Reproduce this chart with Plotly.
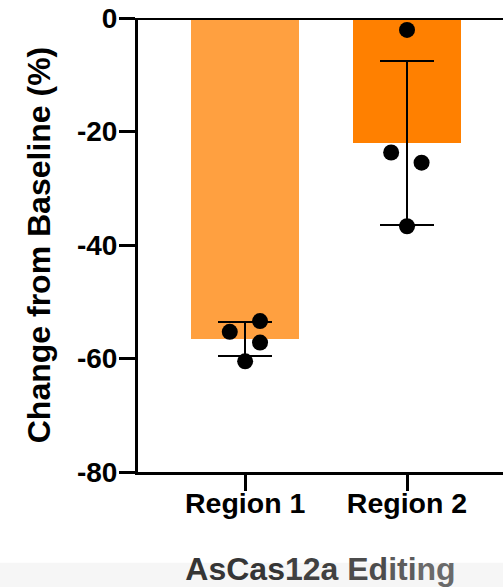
import plotly.graph_objects as go

categories = ["Region 1", "Region 2"]
cat_pos = [0, 1]
bar_means = [-56.6, -22.0]
bar_sd = [3.0, 14.5]
bar_colors = ["#FFA040", "#FF8000"]

# individual replicate points (x offset in category units, value)
region1_offsets = [-0.095, 0.092, 0.092, 0.0]
region1_values = [-55.3, -53.4, -57.2, -60.5]
region2_offsets = [-0.098, 0.09, 0.0, 0.0]
region2_values = [-23.7, -25.5, -2.1, -36.7]

y_ticks = [-80, -60, -40, -20, 0]

FONT = "Liberation Sans"

fig = go.Figure()
fig.add_trace(go.Bar(
    x=cat_pos, y=bar_means, width=0.667,
    marker=dict(color=bar_colors, line=dict(width=0)),
    error_y=dict(type="data", array=bar_sd, visible=True, color="black",
                 thickness=2, width=27),
    showlegend=False,
))
px = [cat_pos[0] + o for o in region1_offsets] + [cat_pos[1] + o for o in region2_offsets]
py = region1_values + region2_values
fig.add_trace(go.Scatter(
    x=px, y=py, mode="markers",
    marker=dict(color="black", size=16, line=dict(width=0)),
    showlegend=False, cliponaxis=False,
))

title_html = ('<b><span style="color:#353535">AsCas</span>'
              '<span style="color:#414141">12a</span>'
              '<span style="color:#4c4c4c"> Ed</span>'
              '<span style="color:#5c5c5c">iti</span>'
              '<span style="color:#6a6a6a">ng</span></b>')

fig.update_layout(
    width=503, height=587,
    margin=dict(l=138, r=0, t=18, b=115),
    paper_bgcolor="white", plot_bgcolor="white",
    font=dict(family=FONT, color="black"),
    bargap=0,
    xaxis=dict(
        range=[-0.662, 1.593],
        tickvals=cat_pos, ticktext=["<b>%s</b>" % c for c in categories],
        tickfont=dict(size=28.5, family=FONT, color="black"),
        showline=True, linecolor="black", linewidth=3,
        ticks="outside", ticklen=16, tickwidth=3, tickcolor="black",
        ticklabelstandoff=-12,
        showgrid=False, zeroline=False, automargin=False,
        title=dict(text=title_html, font=dict(size=32, family=FONT),
                   standoff=42),
    ),
    yaxis=dict(
        range=[-80, 0],
        tickvals=y_ticks, ticktext=["<b>%d</b>" % v for v in y_ticks],
        tickfont=dict(size=28, family=FONT, color="black"),
        showline=True, linecolor="black", linewidth=3,
        ticks="outside", ticklen=16, tickwidth=3, tickcolor="black",
        ticklabelstandoff=-4,
        showgrid=False, zeroline=False, automargin=False,
        title=dict(text="<b>Change from Baseline (%)</b>",
                   font=dict(size=32, family=FONT, color="black"),
                   standoff=17),
    ),
    shapes=[
        dict(type="line", xref="paper", yref="y", x0=0, x1=1, y0=0, y1=0,
             line=dict(color="black", width=4), layer="above"),
        dict(type="rect", xref="paper", yref="paper", x0=-0.38, x1=1,
             y0=-0.2, y1=-0.26, fillcolor="#f6f6f6", line=dict(width=0),
             layer="below"),
    ],
)

fig.write_html("out.html", config={"displayModeBar": False},
               post_script="document.body.style.margin='0px';")
